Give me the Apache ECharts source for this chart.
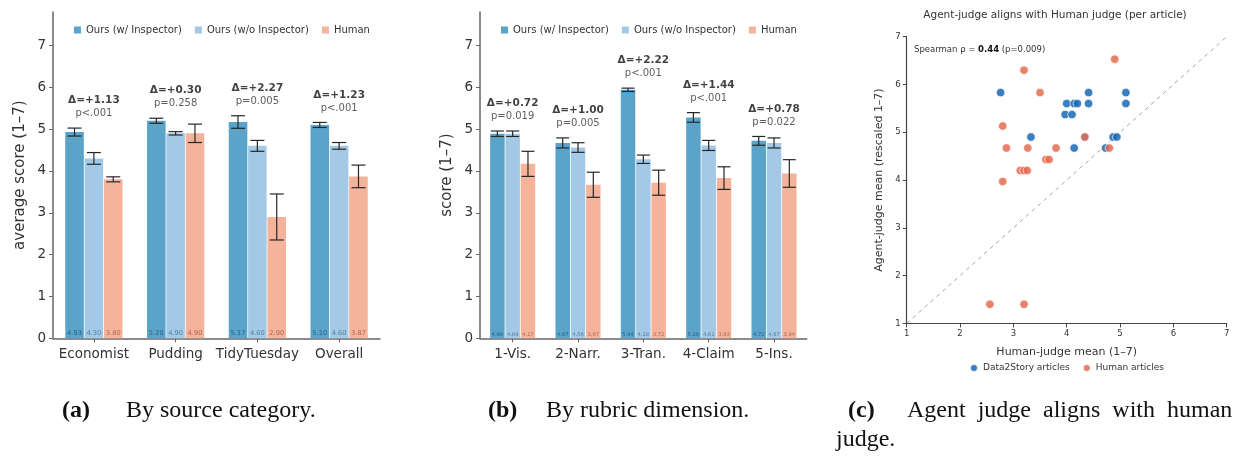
<!DOCTYPE html>
<html><head><meta charset="utf-8">
<script src="https://cdn.jsdelivr.net/npm/echarts@6/dist/echarts.min.js"></script>
<style>html,body{margin:0;padding:0;background:#fff}#c{width:1255px;height:457px}</style>
</head><body><div id="c"></div>
<script>
// ---------- data ----------
const seriesNames = ['Ours (w/ Inspector)', 'Ours (w/o Inspector)', 'Human'];
const scoreTicks = [0, 1, 2, 3, 4, 5, 6, 7];

const catsA = ['Economist', 'Pudding', 'TidyTuesday', 'Overall'];
const withA = [4.93, 5.20, 5.17, 5.10];
const withoutA = [4.30, 4.90, 4.60, 4.60];
const humanA = [3.80, 4.90, 2.90, 3.87];
const withErrA = [0.095, 0.06, 0.15, 0.06];
const withoutErrA = [0.14, 0.04, 0.13, 0.08];
const humanErrA = [0.06, 0.22, 0.55, 0.27];
const deltaA = ['+1.13', '+0.30', '+2.27', '+1.23'];
const pA = ['p<.001', 'p=0.258', 'p=0.005', 'p<.001'];

const catsB = ['1-Vis.', '2-Narr.', '3-Tran.', '4-Claim', '5-Ins.'];
const withB = [4.89, 4.67, 5.94, 5.28, 4.72];
const withoutB = [4.89, 4.56, 4.28, 4.61, 4.67];
const humanB = [4.17, 3.67, 3.72, 3.83, 3.94];
const withErrB = [0.065, 0.12, 0.04, 0.115, 0.105];
const withoutErrB = [0.065, 0.115, 0.10, 0.12, 0.12];
const humanErrB = [0.30, 0.30, 0.30, 0.27, 0.33];
const deltaB = ['+0.72', '+1.00', '+2.22', '+1.44', '+0.78'];
const pB = ['p=0.019', 'p=0.005', 'p<.001', 'p<.001', 'p=0.022'];

const scatterNames = ['Data2Story articles', 'Human articles'];
const d2sHuman = [2.76, 4.41, 5.11, 4.00, 4.14, 4.20, 4.41, 5.11, 3.97, 4.10, 3.33, 4.34, 4.87, 4.94, 4.14, 4.73];
const d2sAgent = [5.83, 5.83, 5.83, 5.60, 5.60, 5.60, 5.60, 5.60, 5.37, 5.37, 4.90, 4.90, 4.90, 4.90, 4.67, 4.67];
const humHuman = [4.90, 3.20, 3.50, 2.80, 2.87, 3.27, 3.80, 4.80, 3.61, 3.67, 3.13, 3.20, 3.26, 2.80, 4.34, 2.56, 3.20];
const humAgent = [6.53, 6.30, 5.83, 5.13, 4.67, 4.67, 4.67, 4.67, 4.43, 4.43, 4.20, 4.20, 4.20, 3.97, 4.90, 1.40, 1.40];
const judgeTicks = [1, 2, 3, 4, 5, 6, 7];
const spearmanRho = '0.44';
const spearmanP = '(p=0.009)';

// ---------- styles ----------
const FONT = 'DejaVu Sans';
const barColors = ['#5aa4ca', '#a3c9e7', '#f5b39b'];
const valColors = ['#2d5f82', '#52809f', '#b0644c'];
const AXIS = '#666';
const dotColors = ['#186ab5', '#e46d51'];

const chart = echarts.init(document.getElementById('c'), null, {renderer: 'canvas'});

function errSeries(xi, vals, errs, offset, capHalf) {
  return {
    type: 'custom', xAxisIndex: xi, yAxisIndex: xi, z: 5, silent: true,
    data: vals.map((v, i) => [i, v, errs[i]]),
    encode: {x: 0, y: 1},
    renderItem: function (params, api) {
      const i = api.value(0), v = api.value(1), e = api.value(2);
      const t = api.coord([i, v + e]);
      const b = api.coord([i, v - e]);
      const cx = t[0] + offset;
      const st = {stroke: '#262626', lineWidth: 1.2};
      return {type: 'group', children: [
        {type: 'line', shape: {x1: cx, y1: t[1], x2: cx, y2: b[1]}, style: st},
        {type: 'line', shape: {x1: cx - capHalf, y1: t[1], x2: cx + capHalf, y2: t[1]}, style: st},
        {type: 'line', shape: {x1: cx - capHalf, y1: b[1], x2: cx + capHalf, y2: b[1]}, style: st}
      ]};
    }
  };
}

function barSeries(xi, k, vals, bw, gap, fs, dist) {
  return {
    type: 'bar', name: seriesNames[k], xAxisIndex: xi, yAxisIndex: xi,
    data: vals, barWidth: bw, barGap: gap,
    itemStyle: {color: barColors[k]},
    label: {show: true, position: 'insideBottom', distance: dist, fontSize: fs,
      color: valColors[k], formatter: p => p.value.toFixed(2)}
  };
}

function annotSeries(xi, ws, wos, hs, we, woe, he, deltas, ps) {
  return {
    type: 'scatter', xAxisIndex: xi, yAxisIndex: xi, symbolSize: 0, silent: true, z: 10,
    data: ws.map((w, i) => ({
      value: [i, Math.max(w + we[i], wos[i] + woe[i], hs[i] + he[i])],
      label: {formatter: '{d|Δ=' + deltas[i] + '}\n{p|' + ps[i] + '}'}
    })),
    label: {show: true, position: 'top', distance: 8,
      rich: {d: {fontFamily: FONT, fontWeight: 'bold', fontSize: 10.5, lineHeight: 13, color: '#111'},
             p: {fontFamily: FONT, fontSize: 10, lineHeight: 13, color: '#333'}}}
  };
}

function barYAxis(gi, name) {
  return {
    gridIndex: gi, type: 'value', min: 0, max: 7.8, interval: 1,
    name: name, nameLocation: 'middle', nameGap: 25,
    nameTextStyle: {fontSize: 15, color: '#333', fontFamily: FONT},
    axisLine: {show: true, lineStyle: {color: AXIS, width: 1.5}},
    axisTick: {show: true, length: 4, customValues: scoreTicks, lineStyle: {color: AXIS}},
    axisLabel: {fontSize: 13.5, color: '#333', margin: 7, customValues: scoreTicks},
    splitLine: {show: false}
  };
}
function barXAxis(gi, cats) {
  return {
    gridIndex: gi, type: 'category', data: cats, boundaryGap: true,
    axisLine: {show: true, lineStyle: {color: AXIS, width: 1.5}},
    axisTick: {show: true, alignWithLabel: true, interval: 0, length: 4, lineStyle: {color: AXIS}},
    axisLabel: {fontSize: 13.5, color: '#333', margin: 9, interval: 0, hideOverlap: false}
  };
}

const legendText = {fontSize: 10, color: '#333', fontFamily: FONT};

const option = {
  animation: false,
  textStyle: {fontFamily: FONT},
  title: {
    text: 'Agent-judge aligns with Human judge (per article)', left: 1050, top: 5, textAlign: 'center',
    textStyle: {fontSize: 10.5, fontWeight: 'normal', color: '#333', fontFamily: FONT}
  },
  legend: [
    {data: seriesNames, left: 69, top: 20, icon: 'rect', itemWidth: 7, itemHeight: 7, itemGap: 13, textStyle: legendText, selectedMode: false},
    {data: seriesNames, left: 496, top: 20, icon: 'rect', itemWidth: 7, itemHeight: 7, itemGap: 13, textStyle: legendText, selectedMode: false},
    {data: scatterNames, left: 964, top: 358, icon: 'circle', itemWidth: 8, itemHeight: 8, itemGap: 12,
      textStyle: {fontSize: 9, color: '#333', fontFamily: FONT}, selectedMode: false}
  ],
  grid: [
    {left: 53, top: 12, width: 327, height: 326.3},
    {left: 480, top: 12, width: 326.7, height: 326.3},
    {left: 906.7, top: 36.7, width: 320, height: 286.7}
  ],
  xAxis: [
    barXAxis(0, catsA),
    barXAxis(1, catsB),
    {gridIndex: 2, type: 'value', min: 1, max: 7, interval: 1,
      name: 'Human-judge mean (1–7)', nameLocation: 'middle', nameGap: 23,
      nameTextStyle: {fontSize: 11, color: '#333', fontFamily: FONT},
      axisLine: {show: true, lineStyle: {color: '#444', width: 1.2}},
      axisTick: {show: true, length: 4, lineStyle: {color: '#444'}},
      axisLabel: {fontSize: 8.5, color: '#333', margin: 6, customValues: judgeTicks},
      splitLine: {show: false}}
  ],
  yAxis: [
    barYAxis(0, 'average score (1–7)'),
    barYAxis(1, 'score (1–7)'),
    {gridIndex: 2, type: 'value', min: 1, max: 7, interval: 1,
      name: 'Agent-judge mean (rescaled 1–7)', nameLocation: 'middle', nameGap: 22,
      nameTextStyle: {fontSize: 11, color: '#333', fontFamily: FONT},
      axisLine: {show: true, lineStyle: {color: '#444', width: 1.2}},
      axisTick: {show: true, length: 4, lineStyle: {color: '#444'}},
      axisLabel: {fontSize: 8.5, color: '#333', margin: 6, customValues: judgeTicks},
      splitLine: {show: false}}
  ],
  graphic: [
    {type: 'text', left: 914, top: 45, z: 20, style: {
      text: '{n|Spearman ρ = }{b|' + spearmanRho + '}{n| ' + spearmanP + '}',
      rich: {n: {fontSize: 8.5, fontFamily: FONT, fill: '#333'}, b: {fontSize: 8.5, fontFamily: FONT, fontWeight: 'bold', fill: '#111'}}}},
    {type: 'text', left: 62, top: 399, style: {text: '(a)', font: 'bold 24px "Liberation Serif"', fill: '#111'}},
    {type: 'text', left: 126, top: 399, style: {text: 'By source category.', font: '24px "Liberation Serif"', fill: '#111'}},
    {type: 'text', left: 488, top: 399, style: {text: '(b)', font: 'bold 24px "Liberation Serif"', fill: '#111'}},
    {type: 'text', left: 546, top: 399, style: {text: 'By rubric dimension.', font: '24px "Liberation Serif"', fill: '#111'}},
    {type: 'text', left: 848, top: 399, style: {text: '(c)', font: 'bold 24px "Liberation Serif"', fill: '#111'}},
    {type: 'text', left: 907, top: 399, style: {text: 'Agent  judge  aligns  with  human', font: '24px "Liberation Serif"', fill: '#111'}},
    {type: 'text', left: 836, top: 428, style: {text: 'judge.', font: '24px "Liberation Serif"', fill: '#111'}}
  ],
  series: [
    barSeries(0, 0, withA, 18.6, '4%', 6.7, 2),
    barSeries(0, 1, withoutA, 18.6, '4%', 6.7, 2),
    barSeries(0, 2, humanA, 18.6, '4%', 6.7, 2),
    errSeries(0, withA, withErrA, -19.35, 7),
    errSeries(0, withoutA, withoutErrA, 0, 7),
    errSeries(0, humanA, humanErrA, 19.35, 7),
    annotSeries(0, withA, withoutA, humanA, withErrA, withoutErrA, humanErrA, deltaA, pA),

    barSeries(1, 0, withB, 14.5, '5.5%', 5.2, 1.5),
    barSeries(1, 1, withoutB, 14.5, '5.5%', 5.2, 1.5),
    barSeries(1, 2, humanB, 14.5, '5.5%', 5.2, 1.5),
    errSeries(1, withB, withErrB, -15.3, 6.5),
    errSeries(1, withoutB, withoutErrB, 0, 6.5),
    errSeries(1, humanB, humanErrB, 15.3, 6.5),
    annotSeries(1, withB, withoutB, humanB, withErrB, withoutErrB, humanErrB, deltaB, pB),

    {type: 'line', xAxisIndex: 2, yAxisIndex: 2, data: [[1, 1], [7, 7]], symbol: 'none', silent: true, z: 1,
      lineStyle: {type: [4, 4], color: '#9a9a9a', width: 0.9}},
    {type: 'scatter', name: scatterNames[0], xAxisIndex: 2, yAxisIndex: 2, symbolSize: 8.5,
      data: d2sHuman.map((x, i) => [x, d2sAgent[i]]),
      itemStyle: {color: dotColors[0], opacity: 0.85, borderColor: '#fff', borderWidth: 0.8}},
    {type: 'scatter', name: scatterNames[1], xAxisIndex: 2, yAxisIndex: 2, symbolSize: 8.5,
      data: humHuman.map((x, i) => [x, humAgent[i]]),
      itemStyle: {color: dotColors[1], opacity: 0.85, borderColor: '#fff', borderWidth: 0.8}}
  ]
};
chart.setOption(option);
</script>
</body></html>
